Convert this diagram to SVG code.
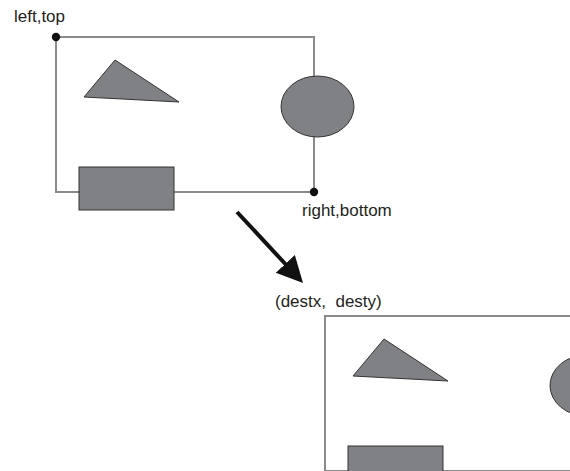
<svg xmlns="http://www.w3.org/2000/svg" width="570" height="471" viewBox="0 0 570 471">
  <style>
    .frame { fill: none; stroke: #8a8a8c; stroke-width: 2; }
    .shape { fill: #808184; stroke: #333333; stroke-width: 1; }
    .label { font-family: "Liberation Sans", Arial, sans-serif; font-size: 17px; fill: #231f20; }
    .pt { fill: #111111; }
  </style>
  <defs>
    <!-- one picture: bounding frame with its three shapes -->
    <g id="picture">
      <path class="frame" d="M56,37 H314 V192 H56 Z"/>
      <polygon class="shape" points="84,97 115,60 179,102"/>
      <ellipse class="shape" cx="317.5" cy="106.5" rx="36.5" ry="30.5"/>
      <rect class="shape" x="79" y="167" width="95" height="43"/>
    </g>
    <marker id="head" markerWidth="7" markerHeight="7" refX="2.75" refY="3.25" orient="auto" markerUnits="strokeWidth">
      <path d="M0,0 L6.5,3.25 L0,6.5 Z" fill="#111111"/>
    </marker>
  </defs>

  <g id="source">
    <use href="#picture"/>
    <circle class="pt" cx="56" cy="37" r="4.2"/>
    <circle class="pt" cx="314" cy="192" r="4.2"/>
    <text class="label" x="14" y="22">left,top</text>
    <text class="label" x="302" y="216">right,bottom</text>
  </g>

  <g id="destination">
    <use href="#picture" transform="translate(269,279)"/>
    <text class="label" x="275" y="307" xml:space="preserve">(destx,  desty)</text>
  </g>

  <g id="connectors">
    <line x1="237" y1="212" x2="292.8" y2="272" stroke="#111111" stroke-width="4" marker-end="url(#head)"/>
  </g>
</svg>
